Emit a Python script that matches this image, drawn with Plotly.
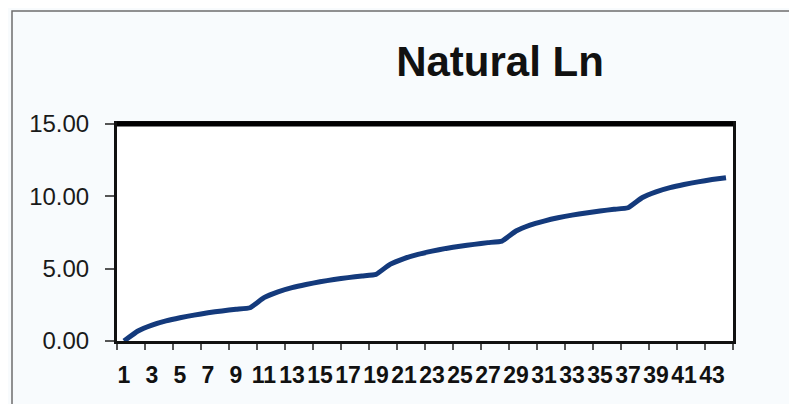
import plotly.graph_objects as go

# Categories 1..44 and the natural-log values
categories = list(range(1, 45))
values = [0.00, 0.69, 1.10, 1.39, 1.61, 1.79, 1.95, 2.08, 2.20, 2.30,
          3.00, 3.40, 3.69, 3.91, 4.09, 4.25, 4.38, 4.50, 4.61,
          5.30, 5.70, 5.99, 6.21, 6.40, 6.55, 6.68, 6.80, 6.91,
          7.60, 8.01, 8.29, 8.52, 8.70, 8.85, 8.99, 9.10, 9.21,
          9.90, 10.31, 10.60, 10.82, 11.00, 11.16, 11.29]
x_tick_labels = [str(c) for c in categories if c % 2 == 1]
x_label_pos = [c for c in categories if c % 2 == 1]
x_tick_marks = [c - 0.5 for c in categories if c % 2 == 1] + [44.5]
y_ticks = [0, 5, 10, 15]

OFF = 8  # default page body margin
W, H = 797 - OFF, 404 - OFF
L, R, T, B = 117 - OFF, 733 - OFF, 124 - OFF, 341 - OFF
bg = "#f8fbfd"

fig = go.Figure()
fig.add_trace(go.Scatter(x=categories, y=values, mode="lines",
                         line=dict(color="#143a7c", width=5, shape="spline", smoothing=0.4),
                         showlegend=False, hoverinfo="skip"))
# invisible trace on label axis
fig.add_trace(go.Scatter(x=[categories[0]], y=[values[0]], xaxis="x2",
                         mode="markers", marker=dict(opacity=0),
                         showlegend=False, hoverinfo="skip"))

pw = R - L
ph = B - T
def px(x):
    return (x - OFF - L) / pw
def py(y):
    return (B - (y - OFF)) / ph

fig.update_layout(
    width=W, height=H,
    margin=dict(l=L, r=W - R, t=T, b=H - B, pad=0),
    paper_bgcolor=bg, plot_bgcolor="#ffffff",
    title=dict(text="<b>Natural Ln</b>", x=(500 - OFF) / W, xanchor="center",
               xref="container",
               y=1 - (61 - OFF) / H, yanchor="middle", yref="container",
               font=dict(family="Liberation Sans, Arial, sans-serif", size=42, color="#111111")),
    xaxis=dict(range=[0.5, 44.5], tickmode="array", tickvals=x_tick_marks,
               ticktext=["" for _ in x_tick_marks], ticks="outside", ticklen=6,
               tickwidth=1.5, tickcolor="#555555", showgrid=False, zeroline=False,
               showline=True, linecolor="#111111", linewidth=3, mirror=True),
    xaxis2=dict(range=[0.5, 44.5], overlaying="x", side="bottom", anchor="y",
                tickmode="array", tickvals=x_label_pos, ticktext=x_tick_labels,
                ticks="", showgrid=False, zeroline=False, showline=False,
                ticklabelstandoff=18,
                tickfont=dict(family="Liberation Sans, Arial, sans-serif", size=23, color="#111111",
                              weight="bold")),
    yaxis=dict(range=[0, 15], tickmode="array", tickvals=y_ticks, tickformat=".2f",
               ticks="outside", ticklen=9, tickwidth=1.5, tickcolor="#555555",
               showgrid=False, zeroline=False, showline=True, linecolor="#111111",
               linewidth=3, mirror=True, ticklabelstandoff=11,
               tickfont=dict(family="Liberation Sans, Arial, sans-serif", size=24, color="#1a1a1a")),
    shapes=[
        dict(type="rect", xref="paper", yref="paper",
             x0=px(12), x1=px(790), y0=py(430), y1=py(11),
             line=dict(color="#6e6e6e", width=1.5), layer="below"),
        dict(type="line", xref="paper", yref="paper",
             x0=0, x1=1, y0=1, y1=1,
             line=dict(color="#000000", width=5)),
    ],
)

fig.write_html("out.html")
